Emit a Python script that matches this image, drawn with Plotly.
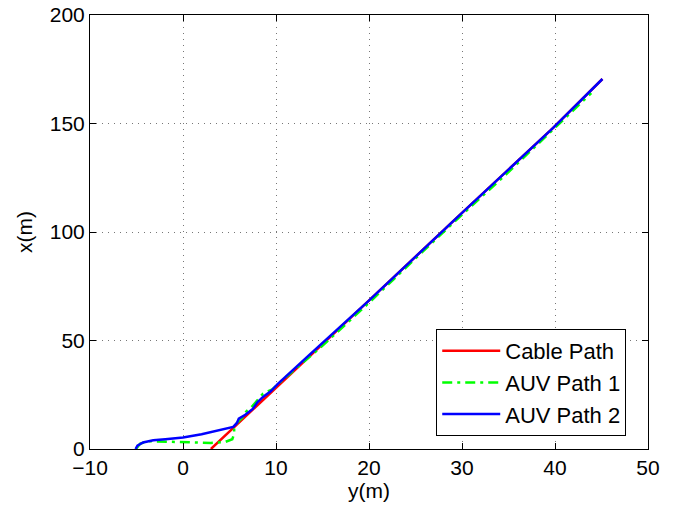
import plotly.graph_objects as go

# cable path and AUV tracks (y(m) horizontal, x(m) vertical)
cable_y = [3.0, 4.5, 6.0, 7.2, 8.5, 10.0, 14.9, 19.9, 29.8, 39.8, 45.1]
cable_x = [0, 6, 12, 17, 22, 28, 48, 68, 108, 148, 170.5]

auv1_y = [-5.0, -4.6, -3.6, -1.7, 1.0, 3.0, 4.5, 5.3, 5.5, 5.5, 5.8, 6.4, 6.8, 7.4,
          8.1, 8.6, 9.6, 10.5, 15.1, 19.9, 24.8, 29.5, 34.6, 39.3, 43.9]
auv1_x = [0.3, 2.5, 3.6, 3.3, 2.8, 2.8, 3.2, 4.5, 7.0, 9.5, 12, 14.5, 17.3, 19.5,
          23, 25.5, 27.5, 31, 48, 67, 87, 106, 126, 145, 164]

auv2_y = [-5.1, -4.9, -4.3, -3.2, -1.9, 0.0, 2.0, 4.2, 5.4, 5.8, 6.0, 6.7, 7.5,
          8.0, 8.6, 9.4, 10.2, 13.5, 19.9, 29.8, 39.8, 45.1]
auv2_x = [0, 1.5, 3.0, 4.0, 4.5, 5.3, 6.8, 8.8, 10.2, 12, 14, 15.8, 18.5,
          21.5, 24, 26.5, 30, 43, 68, 108, 148, 170.5]

FONT = "Liberation Sans, Arial, sans-serif"

fig = go.Figure()
fig.add_trace(go.Scatter(x=cable_y, y=cable_x, mode="lines", name="Cable Path",
                         line=dict(color="#ff0000", width=2.5)))
fig.add_trace(go.Scatter(x=auv1_y, y=auv1_x, mode="lines", name="AUV Path 1",
                         line=dict(color="#00ff00", width=2.5, dash="10px,5px,3px,5px")))
fig.add_trace(go.Scatter(x=auv2_y, y=auv2_x, mode="lines", name="AUV Path 2",
                         line=dict(color="#0000ff", width=2.5)))

axis_style = dict(
    showline=True, linecolor="black", linewidth=1, mirror="ticks",
    ticks="inside", ticklen=6, tickcolor="black",
    showgrid=True, gridcolor="#777777", griddash="1px,5px", gridwidth=1,
    zeroline=False, tickfont=dict(size=21, color="black"), automargin=False,
)

fig.update_layout(
    width=680, height=508,
    margin=dict(l=90, r=32, t=15, b=59),
    paper_bgcolor="white", plot_bgcolor="white",
    font=dict(family=FONT, size=21, color="black"),
    xaxis=dict(range=[-10, 50], tickvals=[-10, 0, 10, 20, 30, 40, 50],
               ticktext=["\u221210", "0", "10", "20", "30", "40", "50"],
               title=dict(text="y(m)", font=dict(size=21), standoff=0), **axis_style),
    yaxis=dict(range=[0, 200], tickvals=[0, 50, 100, 150, 200],
               title=dict(text="x(m)", font=dict(size=21), standoff=11), **axis_style),
    legend=dict(x=0.961, y=0.03, xanchor="right", yanchor="bottom",
                bgcolor="white", bordercolor="black", borderwidth=1,
                font=dict(size=22), tracegroupgap=0, itemwidth=58),
)

# drop the default 8px page margin so the figure sits at the window corner
fig.write_html("out.html", config={"displayModeBar": False},
               post_script="document.body.style.margin='0';")
